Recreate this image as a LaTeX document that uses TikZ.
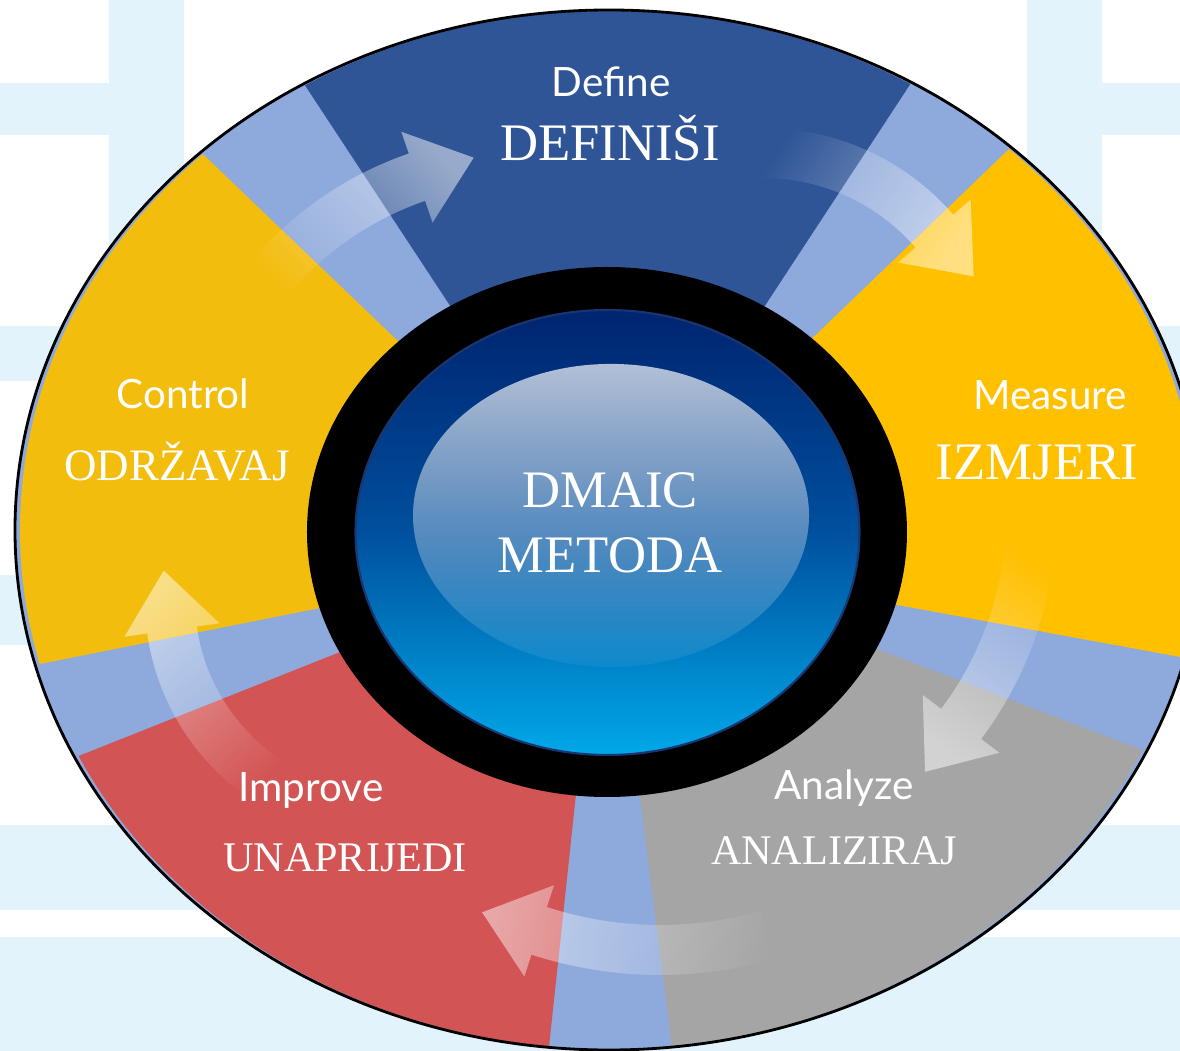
\documentclass[tikz,border=0pt]{standalone}
\usepackage{fontspec}
\setmainfont{Liberation Serif}
\newfontfamily\enfont{Lato}
\usetikzlibrary{fadings, calc, positioning}

\definecolor{bgband}{HTML}{E2F3FC}
\definecolor{bandblue}{HTML}{8EA9DB}
\definecolor{defblue}{HTML}{2F5597}
\definecolor{measyellow}{HTML}{FFC000}
\definecolor{ctrlyellow}{HTML}{F3BD0E}
\definecolor{anagray}{HTML}{A5A5A5}
\definecolor{imprred}{HTML}{D35454}
\definecolor{navytop}{HTML}{002470}
\definecolor{navymid}{HTML}{00509E}
\definecolor{skybottom}{HTML}{00A8E8}
\definecolor{navyline}{HTML}{1A3570}

\tikzfading[name=arrowfade, left color=transparent!100, right color=transparent!0]
\tikzfading[name=glassfade, top color=transparent!30, bottom color=transparent!95]

\tikzset{
  arrowfill/.style={fill=white, fill opacity=0.5},
  sublabel/.style={text=white, anchor=base, font=\enfont\fontsize{11.5}{14}\selectfont},
  biglabel/.style={text=white, anchor=base, font=\fontsize{15}{18}\selectfont},
  midlabel/.style={text=white, anchor=base, font=\fontsize{12}{14}\selectfont},
}

% curved block arrow: centre, radius, start angle, head angle, fading angle
\newcommand{\cyclearrow}[5]{%
  \pgfmathsetmacro{\aro}{#2+0.25}\pgfmathsetmacro{\ari}{#2-0.25}%
  \pgfmathsetmacro{\aho}{#2+0.48}\pgfmathsetmacro{\ahi}{#2-0.48}%
  \pgfmathsetmacro{\atip}{#4-90}%
  \fill[arrowfill, path fading=arrowfade, fading angle=#5]
    ($(#1)+(#3:\aro)$) arc[start angle=#3, end angle=#4, radius=\aro]
    -- ($(#1)+(#4:\aho)$) -- ($(#1)+(#4:#2)+(\atip:0.6)$)
    -- ($(#1)+(#4:\ahi)$) -- ($(#1)+(#4:\ari)$)
    arc[start angle=#4, end angle=#3, radius=\ari] -- cycle;}

\begin{document}
\begin{tikzpicture}
\useasboundingbox (-6.07,-5.19) rectangle (5.73,5.32);
\clip (-6.07,-5.19) rectangle (5.73,5.32);
\fill[white] (-6.07,-5.19) rectangle (5.73,5.32);
% background bands
\foreach \xa / \xb in {-4.98/-4.23, 4.20/4.95}
  \fill[bgband] (\xa,0) rectangle (\xb,5.32);
\fill[bgband] (-6.07,3.97) rectangle (-4.23,4.49);
\fill[bgband] (4.20,3.97) rectangle (5.73,4.49);
\foreach \ya / \yb in {1.51/2.06, -1.13/-0.43, -3.78/-2.93, -5.19/-4.05}
  \fill[bgband] (-6.07,\ya) rectangle (5.73,\yb);

% outer disc
\fill[bandblue] (0.02,0.02) ellipse [x radius=5.94, y radius=5.2];
\begin{scope}
\clip (0.02,0.02) ellipse [x radius=5.89, y radius=5.19];
\fill[defblue] (-0.85,1.17) -- (-4.24,6.32) -- (4.24,6.32) -- (0.87,1.18) -- cycle;
\fill[measyellow] (1.10,1.02) -- (6.61,6.32) -- (6.93,6.32) -- (6.93,-1.47) -- (1.00,-0.38) -- cycle;
\fill[anagray] (0.73,-0.42) -- (6.93,-2.78) -- (6.93,-6.18) -- (0.78,-6.18) -- (0.22,-1.78) -- cycle;
\fill[imprred] (-0.22,-1.78) -- (-0.69,-6.18) -- (-7.07,-6.18) -- (-7.07,-2.95) -- (-1.41,-0.70) -- cycle;
\fill[ctrlyellow] (-1.10,0.96) -- (-7.07,6.68) -- (-7.07,-1.60) -- (-1.37,-0.46) -- cycle;
\end{scope}
\draw[line width=0.8pt] (0.02,0.02) ellipse [x radius=5.94, y radius=5.2];

% arrows between the phases
\cyclearrow{-0.81,0.38}{3.35}{143}{109}{34}
\cyclearrow{1.56,1.52}{2.27}{92}{41}{-25}
\cyclearrow{0.77,0.17}{3.47}{-4}{-37}{-113}
\cyclearrow{0.53,-0.27}{3.91}{286}{252}{177}
\cyclearrow{-2.21,-0.68}{2.16}{240}{188}{121}

% centre button
\fill[black] (0,0) ellipse [x radius=3.0, y radius=2.65];
\shade[top color=navytop, bottom color=skybottom, middle color=navymid, draw=navyline, line width=0.6pt]
  (0.005,-0.005) ellipse [x radius=2.52, y radius=2.225];
\fill[white, path fading=glassfade] (0.04,0.165) ellipse [x radius=1.98, y radius=1.515];

\node[biglabel] (dmaic) at (0.03,0.24) {DMAIC};
\node[biglabel] (metoda) at (0.03,-0.41) {METODA};

\node[sublabel] (define) at (0.04,4.35) {Define};
\node[biglabel] (definisi) at (0.03,3.71) {DEFINIŠI};
\node[sublabel] (measure) at (4.43,1.22) {Measure};
\node[biglabel] (izmjeri) at (4.30,0.52) {IZMJERI};
\node[sublabel] (analyze) at (2.37,-2.68) {Analyze};
\node[midlabel] (analiziraj) at (2.27,-3.33) {ANALIZIRAJ};
\node[sublabel] (improve) at (-2.96,-2.70) {Improve};
\node[midlabel] (unaprijedi) at (-2.62,-3.40) {UNAPRIJEDI};
\node[sublabel] (control) at (-4.24,1.23) {Control};
\node[midlabel, font=\fontsize{12.8}{15}\selectfont] (odrzavaj) at (-4.30,0.51) {ODRŽAVAJ};
\end{tikzpicture}
\end{document}
